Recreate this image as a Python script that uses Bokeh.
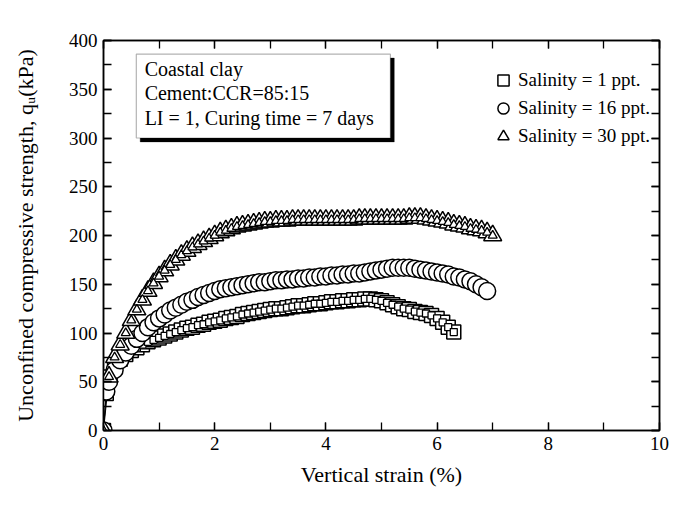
from bokeh.plotting import figure
from bokeh.models import (Range1d, SingleIntervalTicker, LinearAxis, Legend,
                          LegendItem, BoxAnnotation, Label)
from bokeh.embed import file_html
from bokeh.resources import INLINE

FONT = "Liberation Serif"

# Salinity = 1 ppt. (squares)
strain_1 = [0.0, 0.05, 0.1, 0.2, 0.3, 0.4, 0.5, 0.6, 0.7, 0.8, 0.9, 1.0, 1.1, 1.2, 1.3,
            1.4, 1.5, 1.6, 1.7, 1.8, 1.9, 2.0, 2.1, 2.2, 2.3, 2.4, 2.5, 2.6, 2.7, 2.8,
            2.9, 3.0, 3.1, 3.2, 3.3, 3.4, 3.5, 3.6, 3.7, 3.8, 3.9, 4.0, 4.1, 4.2, 4.3,
            4.4, 4.5, 4.6, 4.7, 4.8, 4.9, 5.0, 5.1, 5.2, 5.3, 5.4, 5.5, 5.6, 5.7, 5.8,
            5.9, 6.0, 6.1, 6.2, 6.3]
qu_1 = [0, 38, 55, 66, 73, 78, 82, 85, 88, 91, 93, 95, 97, 99, 101,
        103, 105, 106, 108, 109, 111, 112, 113, 115, 116, 117, 119, 120, 121, 122,
        123, 124, 125, 125, 126, 127, 128, 128, 129, 130, 130, 131, 132, 132, 133,
        133, 134, 134, 135, 135, 134, 133, 131, 129, 127, 125, 124, 122, 121, 120,
        118, 115, 111, 106, 101]

# Salinity = 16 ppt. (circles)
strain_16 = [0.0, 0.05, 0.1, 0.2, 0.3, 0.4, 0.5, 0.6, 0.7, 0.8, 0.9, 1.0, 1.1, 1.2, 1.3,
             1.4, 1.5, 1.6, 1.7, 1.8, 1.9, 2.0, 2.1, 2.2, 2.3, 2.4, 2.5, 2.6, 2.7, 2.8,
             2.9, 3.0, 3.1, 3.2, 3.3, 3.4, 3.5, 3.6, 3.7, 3.8, 3.9, 4.0, 4.1, 4.2, 4.3,
             4.4, 4.5, 4.6, 4.7, 4.8, 4.9, 5.0, 5.1, 5.2, 5.3, 5.4, 5.5, 5.6, 5.7, 5.8,
             5.9, 6.0, 6.1, 6.2, 6.3, 6.4, 6.5, 6.6, 6.7, 6.8, 6.9]
qu_16 = [0, 40, 50, 62, 72, 80, 87, 94, 100, 106, 111, 115, 119, 123, 126,
         129, 132, 134, 137, 139, 141, 143, 145, 146, 147, 148, 149, 150, 151, 152,
         152, 153, 154, 154, 155, 155, 156, 156, 157, 157, 158, 158, 159, 159, 160,
         160, 161, 161, 162, 163, 164, 165, 166, 167, 167, 167, 167, 166, 165, 164,
         163, 162, 161, 160, 158, 157, 155, 153, 150, 147, 143]

# Salinity = 30 ppt. (triangles)
strain_30 = [0.0, 0.1, 0.2, 0.3, 0.4, 0.5, 0.6, 0.7, 0.8, 0.9, 1.0, 1.1, 1.2, 1.3,
             1.4, 1.5, 1.6, 1.7, 1.8, 1.9, 2.0, 2.1, 2.2, 2.3, 2.4, 2.5, 2.6, 2.7, 2.8,
             2.9, 3.0, 3.1, 3.2, 3.3, 3.4, 3.5, 3.6, 3.7, 3.8, 3.9, 4.0, 4.1, 4.2, 4.3,
             4.4, 4.5, 4.6, 4.7, 4.8, 4.9, 5.0, 5.1, 5.2, 5.3, 5.4, 5.5, 5.6, 5.7, 5.8,
             5.9, 6.0, 6.1, 6.2, 6.3, 6.4, 6.5, 6.6, 6.7, 6.8, 6.9, 7.0]
qu_30 = [0, 55, 75, 88, 100, 113, 124, 134, 143, 151, 158, 164, 170, 175,
         180, 184, 188, 191, 194, 197, 200, 203, 205, 207, 209, 210, 211, 212, 213,
         214, 214, 215, 215, 215, 216, 216, 216, 216, 216, 216, 216, 216, 216, 216,
         216, 216, 217, 217, 217, 217, 217, 217, 217, 217, 217, 218, 218, 218, 217,
         216, 215, 214, 213, 211, 210, 209, 207, 206, 205, 203, 200]

labels = ["Salinity = 1 ppt.", "Salinity = 16 ppt.", "Salinity = 30 ppt."]
note_lines = ["Coastal clay", "Cement:CCR=85:15", "LI = 1, Curing time = 7 days"]

p = figure(width=671, height=505, output_backend="svg", toolbar_location=None,
           x_range=Range1d(0, 10), y_range=Range1d(0, 400),
           min_border_left=103, min_border_right=12, min_border_top=40,
           min_border_bottom=75)
p.xgrid.visible = False
p.ygrid.visible = False
p.outline_line_color = "black"
p.outline_line_width = 1.5
p.background_fill_color = "white"

xt = SingleIntervalTicker(interval=2, num_minor_ticks=2)
yt = SingleIntervalTicker(interval=50, num_minor_ticks=2)


def style_axis(ax, show_labels=True):
    ax.axis_line_color = "black"
    ax.axis_line_width = 1.5
    ax.major_tick_in = 8
    ax.major_tick_out = 0
    ax.minor_tick_in = 8
    ax.minor_tick_out = 0
    ax.major_tick_line_color = "black"
    ax.minor_tick_line_color = "black"
    ax.major_tick_line_width = 1.3
    ax.minor_tick_line_width = 1.3
    ax.major_label_text_font = FONT
    ax.major_label_text_font_size = "19px"
    ax.major_label_text_color = "black" if show_labels else None
    ax.axis_label_text_font = FONT
    ax.axis_label_text_font_size = "22px"
    ax.axis_label_text_font_style = "normal"
    ax.axis_label_text_color = "black"


p.xaxis.ticker = xt
p.yaxis.ticker = yt
p.xaxis.axis_label = "Vertical strain (%)"
p.yaxis.axis_label = "Unconfined compressive strength, q\u1d64(kPa)"
style_axis(p.xaxis[0])
style_axis(p.yaxis[0])
p.xaxis.major_label_standoff = 6
p.yaxis.major_label_standoff = 6
p.xaxis.axis_label_standoff = 9
p.yaxis.axis_label_standoff = 28

top = LinearAxis(ticker=xt)
right = LinearAxis(ticker=yt)
style_axis(top, False)
style_axis(right, False)
top.major_label_text_font_size = "0px"
right.major_label_text_font_size = "0px"
top.major_label_standoff = 0
right.major_label_standoff = 0
p.add_layout(top, "above")
p.add_layout(right, "right")

# annotation box with shadow
shadow = BoxAnnotation(left=0.66, right=5.23, top=382, bottom=296,
                       fill_color="black", fill_alpha=1, line_color="black",
                       level="overlay")
box = BoxAnnotation(left=0.59, right=5.16, top=386, bottom=300,
                    fill_color="white", fill_alpha=1, line_color="black",
                    line_width=1.2, level="overlay")
p.add_layout(shadow)
p.add_layout(box)
for txt, yy in zip(note_lines, [371, 346, 321]):
    p.add_layout(Label(x=0.74, y=yy, text=txt, text_font=FONT,
                       text_font_size="20px", text_baseline="middle",
                       text_color="black", level="overlay"))

common = dict(line_color="black", fill_color="white", line_width=1.5)
for xs, ys in [(strain_1, qu_1), (strain_16, qu_16), (strain_30, qu_30)]:
    p.line(xs, ys, line_color="black", line_width=1)

sq_o = p.scatter(strain_1, qu_1, marker="square", size=14, **common)
sq_i = p.scatter(strain_1, qu_1, marker="square", size=7, line_color="black",
                 fill_color="white", line_width=1.3)
ci = p.scatter(strain_16, qu_16, marker="circle", size=17, **common)
tr_o = p.scatter(strain_30, qu_30, marker="triangle", size=18, **common)
tr_i = p.scatter(strain_30, qu_30, marker="triangle", size=9, line_color="black",
                 fill_color="white", line_width=1.3)

legend = Legend(items=[LegendItem(label=labels[0], renderers=[sq_o]),
                       LegendItem(label=labels[1], renderers=[ci]),
                       LegendItem(label=labels[2], renderers=[tr_o])],
                location=(386, 280), orientation="vertical",
                background_fill_alpha=0, border_line_color=None,
                label_text_font=FONT, label_text_font_size="19px",
                label_text_color="black",
                glyph_width=28, glyph_height=28, label_height=24,
                label_standoff=1, spacing=-4, padding=0, margin=0)
p.add_layout(legend)

open("out.html", "w").write(file_html(p, INLINE))
